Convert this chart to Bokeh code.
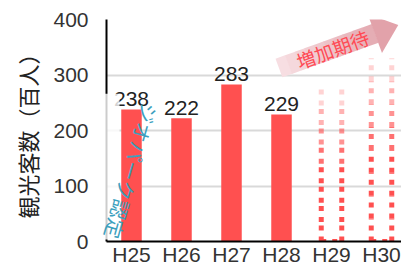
import math
from bokeh.plotting import figure
from bokeh.models import Range1d, FixedTicker
from bokeh.core.properties import value
from bokeh.embed import file_html
from bokeh.resources import INLINE

# ---- data ----
categories = ["H25", "H26", "H27", "H28", "H29", "H30"]
actual_values = [238, 222, 283, 229]          # H25-H28
expected_values = [280, 330]                  # H29-H30 (dotted, expected)
y_ticks = [0, 100, 200, 300, 400]
y_label = "観光客数（百人）"
arrow_text = "増加期待"
note_text = "ジオパーク認定"

RED = "#ff5050"
FONT = "Noto Sans CJK JP"
NUMFONT = "Liberation Sans"
BAR_W = 0.41

p = figure(width=401, height=268, output_backend="svg", toolbar_location=None,
           x_range=Range1d(-0.5, 5.4), y_range=Range1d(0, 400),
           min_border_left=106, min_border_right=0, min_border_top=19, min_border_bottom=25)
p.outline_line_color = None
p.background_fill_color = "white"

# axes
p.xaxis.ticker = FixedTicker(ticks=list(range(len(categories))))
p.xaxis.major_label_overrides = {i: c for i, c in enumerate(categories)}
p.yaxis.ticker = FixedTicker(ticks=y_ticks)
for ax in (p.xaxis[0], p.yaxis[0]):
    ax.axis_line_color = "black"
    ax.axis_line_width = 2
    ax.major_tick_line_color = None
    ax.minor_tick_line_color = None
    ax.major_tick_out = 0
    ax.major_tick_in = 0
    ax.minor_tick_out = 0
    ax.minor_tick_in = 0
    ax.major_label_text_font = NUMFONT
    ax.major_label_text_font_size = "21px"
    ax.major_label_text_color = "#333333"
p.xaxis.major_label_standoff = 1
p.yaxis.major_label_standoff = 18
p.yaxis.axis_label = y_label
p.yaxis.axis_label_text_font = FONT
p.yaxis.axis_label_text_font_size = "22px"
p.yaxis.axis_label_text_font_style = "normal"
p.yaxis.axis_label_text_color = "#222222"
p.yaxis.axis_label_standoff = 7
p.xgrid.grid_line_color = None
p.ygrid.ticker = FixedTicker(ticks=y_ticks[1:])
p.ygrid.grid_line_color = "#d9d9d9"
p.ygrid.grid_line_width = 2

# actual bars
xs_actual = list(range(len(actual_values)))
p.vbar(x=xs_actual, top=actual_values, width=BAR_W, bottom=0, fill_color=RED, line_color=None)
p.text(x=xs_actual, y=actual_values, text=[str(v) for v in actual_values],
       text_align="center", text_baseline="bottom", y_offset=-3,
       text_font=value(NUMFONT), text_font_size="21px", text_color="#222222")

# expected (dotted, fading) bars
xs_exp = list(range(len(actual_values), len(categories)))
n = 8
for xc, v in zip(xs_exp, expected_values):
    for k in range(n):
        y0 = v * k / n
        y1 = v * (k + 1) / n
        a = 1.0 if k < n // 2 else 1.0 - 0.75 * (k - n // 2 + 1) / (n - n // 2)
        p.segment(x0=[xc - BAR_W / 2, xc + BAR_W / 2], y0=[y0, y0],
                  x1=[xc - BAR_W / 2, xc + BAR_W / 2], y1=[y1, y1],
                  line_color=RED, line_alpha=a, line_width=5, line_dash="5 6")
    p.segment(x0=[xc - BAR_W / 2], y0=[0], x1=[xc + BAR_W / 2], y1=[0],
              line_color=RED, line_width=5, line_dash="5 6")

# pixel -> data helpers for decorations
def dx(px):
    return (px - 106) / 50.0 - 0.5

def dy(py):
    return (243 - py) / 0.56

# arrow "増加期待"
cx, cy, ang = 332, 48.5, math.radians(20)
def pt(u, v):
    px = cx + u * math.cos(ang) - v * math.sin(ang)
    py = cy - u * math.sin(ang) - v * math.cos(ang)
    return dx(px), dy(py)

tail, head0, tip, hw, bw = -57, 45, 70, 21, 10
c0 = (247, 222, 226)
c1 = (226, 162, 170)
steps = 10
for i in range(steps):
    u0 = tail + (head0 - tail) * i / steps
    u1 = tail + (head0 - tail) * (i + 1) / steps + 0.5
    t = i / steps
    col = tuple(int(c0[j] + (c1[j] - c0[j]) * t * 0.9) for j in range(3))
    pts = [pt(u0, -bw), pt(u1, -bw), pt(u1, bw), pt(u0, bw)]
    p.patch([q[0] for q in pts], [q[1] for q in pts], fill_color="#%02x%02x%02x" % col, line_color=None)
pts = [pt(head0, -hw), pt(tip, 0), pt(head0, hw)]
p.patch([q[0] for q in pts], [q[1] for q in pts], fill_color="#%02x%02x%02x" % c1, line_color=None)
tx, ty = pt(0, 0)
p.text(x=[tx], y=[ty], text=[arrow_text], angle=20, angle_units="deg",
       text_align="center", text_baseline="middle",
       text_font=value(FONT), text_font_size="19px", text_color="#ff4b55")

# white glow overlay with vertical note
ov = p.quad(left=[dx(103)], right=[dx(119)], bottom=[dy(241)], top=[dy(94)],
            fill_color="white", fill_alpha=0.8, line_color=None)
ov.level = "overlay"
nt = p.text(x=[dx(131)], y=[dy(172)], text=[note_text], angle=-106, angle_units="deg",
            text_align="center", text_baseline="middle",
            text_font=value(FONT), text_font_size="20px", text_color="#3ca0be")
nt.level = "overlay"

open("out.html", "w").write(file_html(p, INLINE))
